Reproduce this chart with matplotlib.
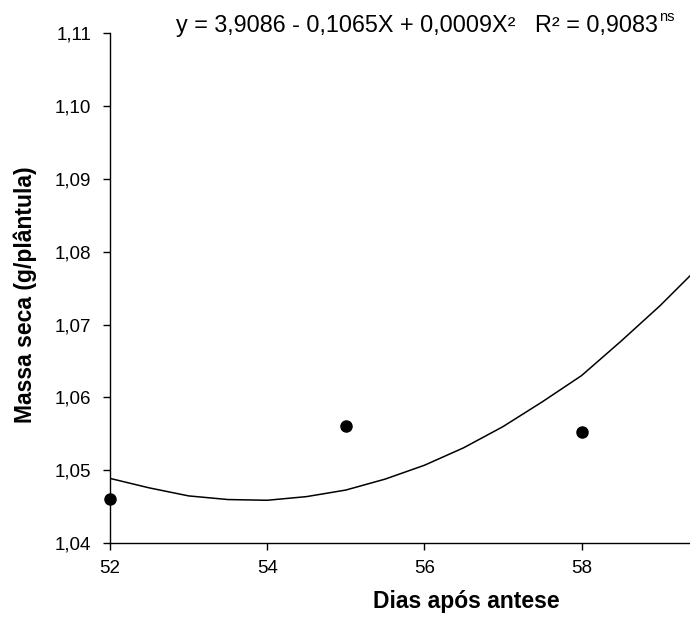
# Massa seca x dias apos antese - recreated chart
import numpy as np
import matplotlib
matplotlib.use('Agg')
import matplotlib.pyplot as plt

plt.rcParams['font.family'] = ['Liberation Sans', 'DejaVu Sans']

# observed means
dias = [52, 55, 58]
massa = [1.0461, 1.0561, 1.0552]

# fitted curve
curva_x = [52.0, 52.5, 53.0, 53.5, 54.0, 54.5, 55.0, 55.5, 56.0, 56.5,
           57.0, 57.5, 58.0, 58.5, 59.0, 59.4]
curva_y = [1.0489, 1.0476, 1.0465, 1.0460, 1.0459, 1.0464, 1.0473, 1.0488,
           1.0507, 1.0531, 1.0560, 1.0594, 1.0630, 1.0677, 1.0726, 1.0769]

xticks = [52, 54, 56, 58]
xtick_labels = ['52', '54', '56', '58']
yticks = [1.04, 1.05, 1.06, 1.07, 1.08, 1.09, 1.10, 1.11]
ytick_labels = ['1,04', '1,05', '1,06', '1,07', '1,08', '1,09', '1,10', '1,11']

equacao = 'y = 3,9086 - 0,1065X + 0,0009X\u00b2   R\u00b2 = 0,9083'

fig = plt.figure(figsize=(6.9, 6.28), dpi=100)
ax = fig.add_axes([0.1594, 0.1349, 0.8406, 0.8126])

ax.plot(curva_x, curva_y, color='black', lw=1.1)
ax.plot(dias, massa, 'o', color='black', ms=8, clip_on=False, zorder=3)

ax.set_xlim(52, 59.38)
ax.set_ylim(1.04, 1.11)
ax.set_xticks(xticks)
ax.set_xticklabels(xtick_labels)
ax.set_yticks(yticks)
ax.set_yticklabels(ytick_labels)
ax.tick_params(direction='out', length=5, width=1, labelsize=13.5, colors='black')
ax.tick_params(axis='x', pad=7)
ax.tick_params(axis='y', pad=8.5)

for s in ['top', 'right']:
    ax.spines[s].set_visible(False)
for s in ['left', 'bottom']:
    ax.spines[s].set_linewidth(1.0)

fig.text(466 / 690, 1 - 608 / 628, 'Dias após antese', ha='center', va='baseline',
         fontsize=16.5, fontweight='bold')
fig.text(25 / 690, 1 - 295 / 628, 'Massa seca (g/plântula)', ha='center', va='center',
         rotation=90, fontsize=16.5, fontweight='bold')

eq = fig.text(176 / 690, 1 - 32 / 628, equacao, ha='left', va='baseline', fontsize=16.8)
# superscript "ns" just after the equation
ax.annotate('ns', xy=(1, 1), xycoords=eq, xytext=(1, 3), textcoords='offset points',
            ha='left', va='top', fontsize=10.5, annotation_clip=False)

plt.savefig('out.png', dpi=100)
